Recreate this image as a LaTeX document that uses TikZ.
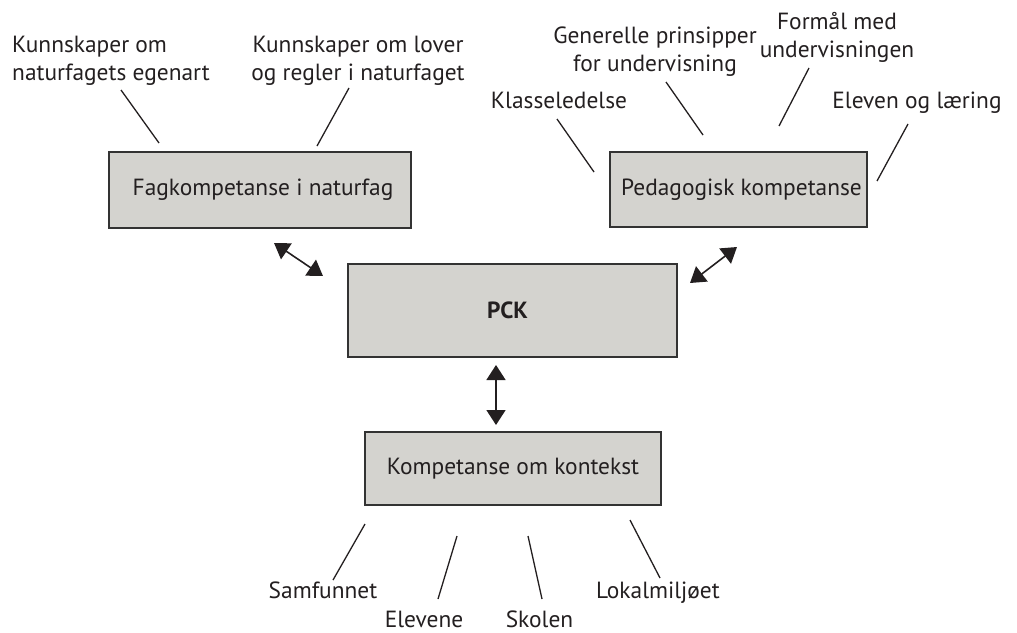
\documentclass[tikz,border=0pt]{standalone}
\usepackage{fontspec}
\setmainfont{PT Sans}
\usetikzlibrary{arrows.meta}
\definecolor{boxfill}{HTML}{D4D3CF}
\definecolor{boxline}{HTML}{333333}
\definecolor{ink}{HTML}{231F20}
\begin{document}
\begin{tikzpicture}[x=1pt,y=-1pt,
  every node/.style={text=ink},
  lbl/.style={font=\fontsize{23.4}{28}\selectfont, inner sep=0pt, anchor=base},
  cbox/.style={draw=boxline, line width=1.5pt, fill=boxfill, font=\fontsize{23.4}{28}\selectfont, inner sep=0pt},
  tick/.style={draw=ink, line width=1.3pt},
  dbl/.style={draw=ink, line width=1.6pt, {Triangle[length=15pt,width=19pt]}-{Triangle[length=15pt,width=19pt]}}
]
\useasboundingbox (0,0) rectangle (1017,632);

% boxes
\node[cbox, minimum width=302pt, minimum height=76pt] (fag) at (260,190) {\hspace*{6pt}Fagkompetanse i naturfag};
\node[cbox, minimum width=257pt, minimum height=75pt] (ped) at (738.5,189.5) {\hspace*{6pt}Pedagogisk kompetanse};
\node[cbox, minimum width=329pt, minimum height=93pt] (pck) at (512.5,310.5) {\hspace*{-10pt}\textbf{PCK}};
\node[cbox, minimum width=296pt, minimum height=73pt] (kon) at (513,468.5) {Kompetanse om kontekst};

% labels (base anchor = baseline of the last line)
\node[lbl, anchor=base west, align=left] (l1) at (12,80) {Kunnskaper om\\naturfagets egenart};
\node[lbl, align=center] (l2) at (358,80) {Kunnskaper om lover\\og regler i naturfaget};
\node[lbl] (l3) at (559,108) {Klasseledelse};
\node[lbl, align=center] (l4) at (655,71) {Generelle prinsipper\\for undervisning};
\node[lbl, align=center] (l5) at (837,57) {Formål med\\undervisningen};
\node[lbl] (l6) at (917,108) {Eleven og læring};
\node[lbl] (b1) at (323,598) {Samfunnet};
\node[lbl] (b2) at (424,627) {Elevene};
\node[lbl] (b3) at (539.5,627) {Skolen};
\node[lbl] (b4) at (658,598) {Lokalmiljøet};

% tick coordinates
\coordinate (t1a) at (121,90);  \coordinate (t1b) at (159,143);
\coordinate (t2a) at (349,88);  \coordinate (t2b) at (317,146);
\coordinate (t3a) at (557,119); \coordinate (t3b) at (594,172);
\coordinate (t4a) at (666,82);  \coordinate (t4b) at (703,135);
\coordinate (t5a) at (809,68);  \coordinate (t5b) at (779,126);
\coordinate (t6a) at (908,124); \coordinate (t6b) at (877,181);
\coordinate (s1a) at (365,524); \coordinate (s1b) at (333,580);
\coordinate (s2a) at (457,536); \coordinate (s2b) at (438,599);
\coordinate (s3a) at (528,536); \coordinate (s3b) at (542,599);
\coordinate (s4a) at (630,520); \coordinate (s4b) at (660,578);

\draw[tick] (t1a) -- (t1b);
\draw[tick] (t2a) -- (t2b);
\draw[tick] (t3a) -- (t3b);
\draw[tick] (t4a) -- (t4b);
\draw[tick] (t5a) -- (t5b);
\draw[tick] (t6a) -- (t6b);
\draw[tick] (s1a) -- (s1b);
\draw[tick] (s2a) -- (s2b);
\draw[tick] (s3a) -- (s3b);
\draw[tick] (s4a) -- (s4b);

% arrows
\coordinate (a1a) at (274,243); \coordinate (a1b) at (323,276);
\coordinate (a2a) at (690,283); \coordinate (a2b) at (737,247);
\coordinate (a3a) at (496,365); \coordinate (a3b) at (496,425);
\draw[dbl] (a1a) -- (a1b);
\draw[dbl] (a2a) -- (a2b);
\draw[dbl] (a3a) -- (a3b);
\end{tikzpicture}
\end{document}
